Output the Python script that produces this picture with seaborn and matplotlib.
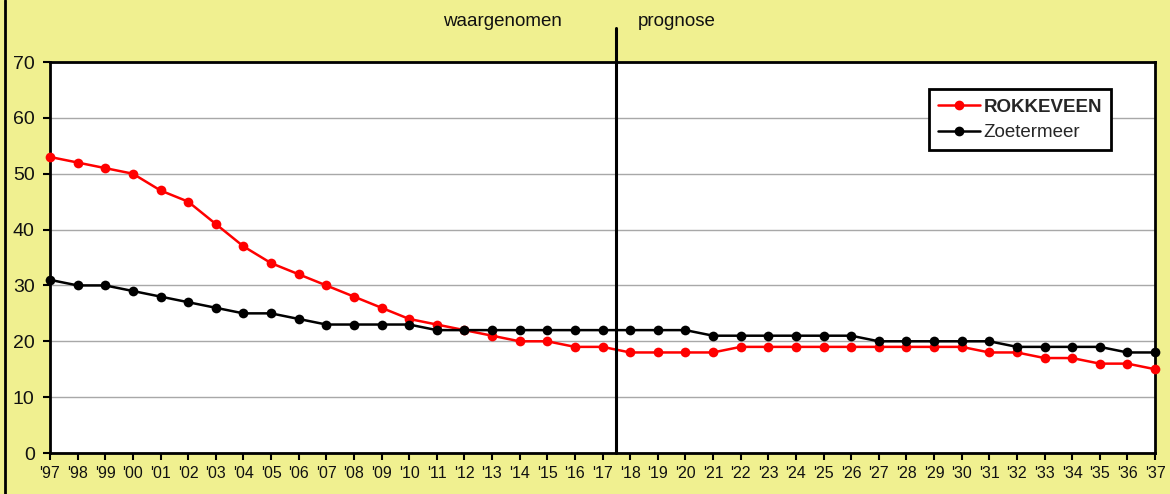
import matplotlib
matplotlib.use("Agg")
import matplotlib.pyplot as plt
from matplotlib.lines import Line2D
import pandas as pd
import seaborn as sns

years = ["'97", "'98", "'99", "'00", "'01", "'02", "'03", "'04", "'05", "'06",
         "'07", "'08", "'09", "'10", "'11", "'12", "'13", "'14", "'15", "'16",
         "'17", "'18", "'19", "'20", "'21", "'22", "'23", "'24", "'25", "'26",
         "'27", "'28", "'29", "'30", "'31", "'32", "'33", "'34", "'35", "'36",
         "'37"]
rokkeveen = [53, 52, 51, 50, 47, 45, 41, 37, 34, 32,
             30, 28, 26, 24, 23, 22, 21, 20, 20, 19,
             19, 18, 18, 18, 18, 19, 19, 19, 19, 19,
             19, 19, 19, 19, 18, 18, 17, 17, 16, 16,
             15]
zoetermeer = [31, 30, 30, 29, 28, 27, 26, 25, 25, 24,
              23, 23, 23, 23, 22, 22, 22, 22, 22, 22,
              22, 22, 22, 22, 21, 21, 21, 21, 21, 21,
              20, 20, 20, 20, 20, 19, 19, 19, 19, 18,
              18]
series_names = ["ROKKEVEEN", "Zoetermeer"]
series_colors = ["#FF0000", "#000000"]
split_label_left = "waargenomen"
split_label_right = "prognose"
last_observed = "'17"

sns.set_theme(style="white")
plt.rcParams["font.family"] = ["Liberation Sans", "DejaVu Sans"]

W, H = 1170, 494
fig = plt.figure(figsize=(W / 100, H / 100), dpi=100)
bg = "#F0F090"
fig.patch.set_facecolor(bg)

ax_l, ax_r, ax_t, ax_b = 50, 1155, 62, 453
ax = fig.add_axes([ax_l / W, 1 - ax_b / H, (ax_r - ax_l) / W, (ax_b - ax_t) / H])
ax.set_facecolor("white")

idx = list(range(len(years)))
df = pd.DataFrame({
    "pos": idx * 2,
    "value": rokkeveen + zoetermeer,
    "series": [series_names[0]] * len(years) + [series_names[1]] * len(years),
})

sns.lineplot(data=df, x="pos", y="value", hue="series",
             palette=dict(zip(series_names, series_colors)),
             marker="o", markersize=7, markeredgewidth=0,
             linewidth=1.8, ax=ax, legend=False, clip_on=False, zorder=3)

ax.set_xlim(0, len(years) - 1)
ax.set_ylim(0, 70)
ax.set_yticks(range(0, 71, 10))
ax.set_xticks(idx)
ax.set_xticklabels(years)
ax.set_xlabel("")
ax.set_ylabel("")

ax.yaxis.grid(True, color="#A8A8A8", linewidth=1.0)
ax.xaxis.grid(False)
ax.set_axisbelow(True)

for s in ax.spines.values():
    s.set_color("black")
    s.set_linewidth(2.0)
    s.set_visible(True)

ax.tick_params(axis="x", direction="out", length=5, width=1.5, color="black",
               labelsize=11.5, pad=4, labelcolor="#111111")
ax.tick_params(axis="y", direction="out", length=5, width=1.5, color="black",
               labelsize=14, pad=6, labelcolor="#111111")
ax.tick_params(bottom=True, left=True)

# divider between observed and forecast years
split_x = years.index(last_observed) + 0.5
ax.axvline(split_x, ymin=0, ymax=(ax_b - 28) / (ax_b - ax_t), color="black",
           linewidth=2.2, clip_on=False, zorder=4)

fig.text(502 / W, 1 - 21 / H, split_label_left, ha="center", va="center",
         fontsize=13.5, color="#111111")
fig.text(638 / W, 1 - 21 / H, split_label_right, ha="left", va="center",
         fontsize=13.5, color="#111111")

handles = [Line2D([0], [0], color=c, marker="o", markersize=6, linewidth=1.8)
           for c in series_colors]
leg = ax.legend(handles, series_names, loc="upper left",
                bbox_to_anchor=((929 - ax_l) / (ax_r - ax_l), 1 - (89 - ax_t) / (ax_b - ax_t)),
                frameon=True, fancybox=False, edgecolor="black", framealpha=1,
                fontsize=13.5, handlelength=2.2, handletextpad=0.2,
                borderpad=0.5, labelspacing=0.45, borderaxespad=0)
leg.get_frame().set_linewidth(2.0)
leg.get_texts()[0].set_fontweight("bold")

# left edge border of the chart area
fig.add_artist(Line2D([5 / W, 5 / W], [0, 1], color="black", linewidth=2.0,
                      transform=fig.transFigure))

fig.savefig("out.png", dpi=100, facecolor=bg)
